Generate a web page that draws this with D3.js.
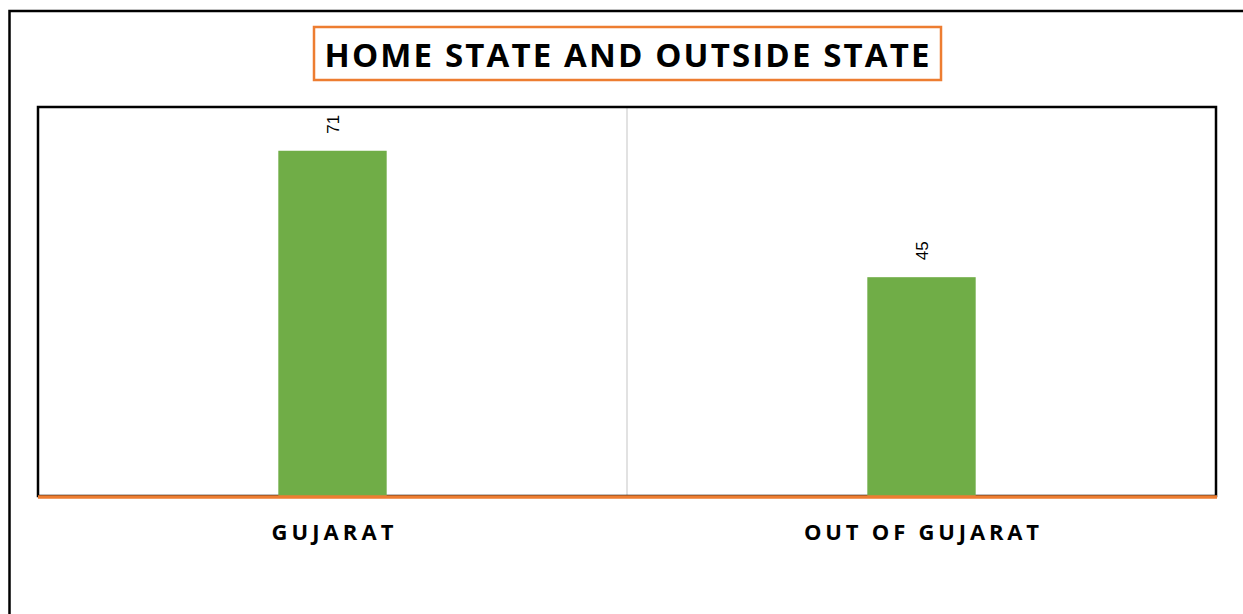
<!DOCTYPE html>
<html>
<head>
<meta charset="utf-8">
<script src="https://cdn.jsdelivr.net/npm/d3@7"></script>
<style>
  html, body { margin: 0; padding: 0; background: #fff; }
  svg { display: block; }
</style>
</head>
<body>
<svg id="chart"></svg>
<script>
// datos del gráfico
const categories = ['GUJARAT', 'OUT OF GUJARAT'];
const values = [71, 45];
const titleText = 'HOME STATE AND OUTSIDE STATE';

const width = 1243, height = 614;
const svg = d3.select('#chart').attr('width', width).attr('height', height);

// marco exterior
svg.append('rect')
  .attr('x', 9.5).attr('y', 11).attr('width', width + 20).attr('height', height + 20)
  .attr('fill', 'none').attr('stroke', '#000').attr('stroke-width', 2.5);

// área del gráfico
const plot = { left: 38, top: 107, right: 1216, bottom: 496 };

const x = d3.scaleBand().domain(categories).range([plot.left, plot.right]).padding(0);
const y = d3.scaleLinear().domain([0, 80]).range([plot.bottom, plot.top]);
const barW = x.bandwidth() * 0.184;

// línea divisoria entre categorías
svg.append('line')
  .attr('x1', x(categories[1])).attr('x2', x(categories[1]))
  .attr('y1', plot.top).attr('y2', plot.bottom)
  .attr('stroke', '#d9d9d9').attr('stroke-width', 1.5);

// borde del área
svg.append('rect')
  .attr('x', plot.left).attr('y', plot.top)
  .attr('width', plot.right - plot.left).attr('height', plot.bottom - plot.top)
  .attr('fill', 'none').attr('stroke', '#000').attr('stroke-width', 2.5);

// barras
svg.append('g').selectAll('rect')
  .data(values)
  .join('rect')
  .attr('x', (d, i) => x(categories[i]) + x.bandwidth() / 2 - barW / 2)
  .attr('y', d => y(d))
  .attr('width', barW)
  .attr('height', d => y(0) - y(d))
  .attr('fill', '#70AD47');

// etiquetas de valor (rotadas)
svg.append('g').selectAll('text')
  .data(values)
  .join('text')
  .attr('transform', (d, i) => `translate(${x(categories[i]) + x.bandwidth() / 2 + 6},${y(d) - 17}) rotate(-90)`)
  .attr('text-anchor', 'start')
  .attr('font-family', 'Liberation Sans, Arial, sans-serif')
  .attr('font-size', 17)
  .attr('fill', '#000')
  .text(d => d);

// eje X (línea naranja)
svg.append('line')
  .attr('x1', plot.left).attr('x2', plot.right + 1)
  .attr('y1', plot.bottom + 1).attr('y2', plot.bottom + 1)
  .attr('stroke', '#ED7D31').attr('stroke-width', 3.5);

// etiquetas de categoría
const catTargets = [122, 235];
svg.append('g').selectAll('text')
  .data(categories)
  .join('text')
  .attr('x', d => x(d) + x.bandwidth() / 2)
  .attr('y', 540)
  .attr('text-anchor', 'middle')
  .attr('font-family', 'Open Sans, sans-serif')
  .attr('font-weight', 'bold')
  .attr('font-size', 22)
  .attr('fill', '#000')
  .text(d => d)
  .each(function(d, i) {
    fitSpacing(this, catTargets[i]);
  });

// título
const titleCx = 627;
const title = svg.append('text')
  .attr('x', titleCx).attr('y', 67)
  .attr('text-anchor', 'middle')
  .attr('font-family', 'Open Sans, sans-serif')
  .attr('font-weight', 'bold')
  .attr('font-size', 33)
  .attr('fill', '#000')
  .text(titleText);
fitSpacing(title.node(), 605);

svg.append('rect')
  .attr('x', 314).attr('y', 27).attr('width', 627).attr('height', 53)
  .attr('fill', 'none').attr('stroke', '#ED7D31').attr('stroke-width', 2.5);

// ajusta el espaciado de letras para el ancho deseado
function fitSpacing(node, target) {
  const n = node.textContent.length;
  const w = node.getComputedTextLength();
  const ls = (target - w) / (n - 1);
  d3.select(node).attr('letter-spacing', ls);
  // compensar el espacio final añadido a la última letra
  const cur = +d3.select(node).attr('x');
  d3.select(node).attr('x', cur + ls / 2);
}
</script>
</body>
</html>
